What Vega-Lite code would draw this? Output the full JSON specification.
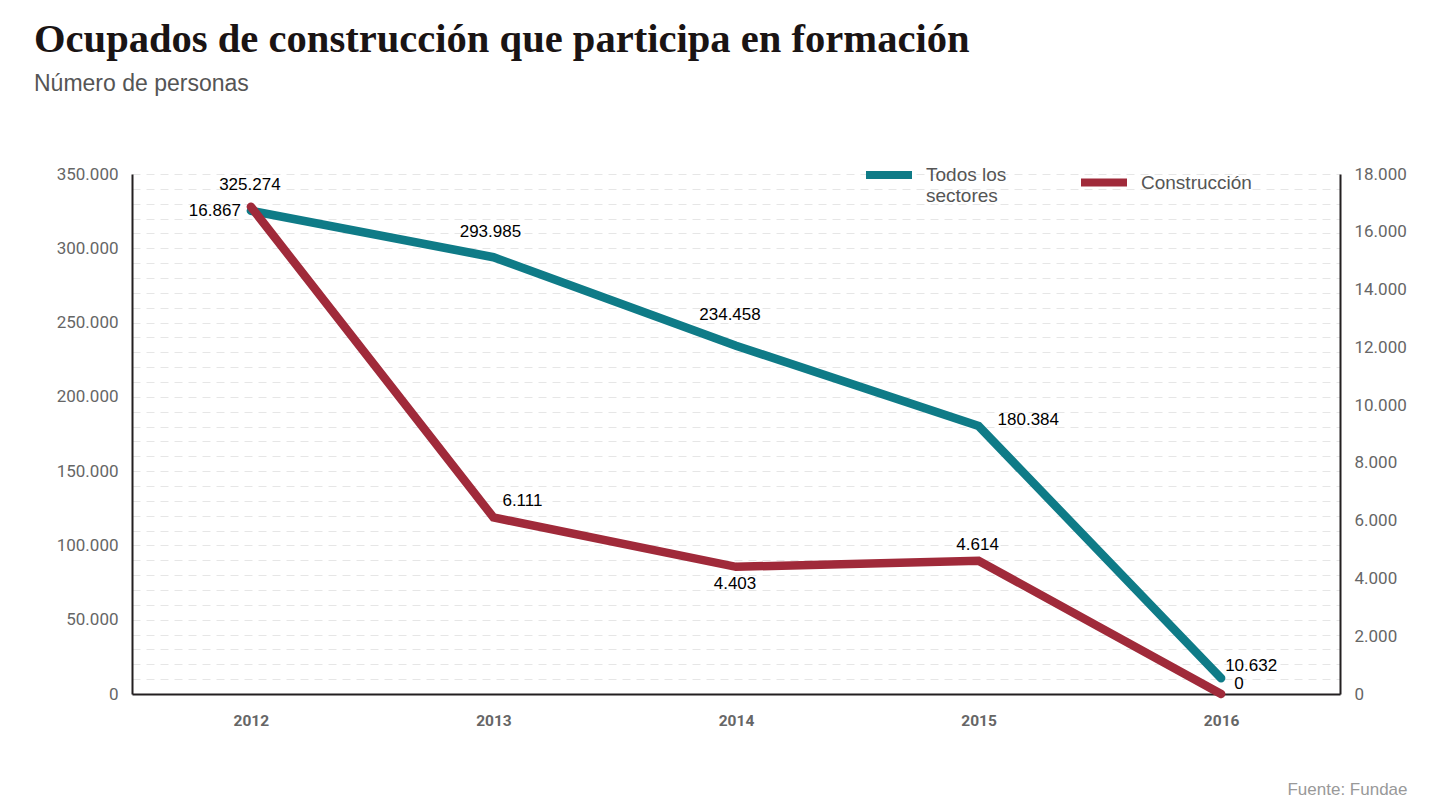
{
  "$schema": "https://vega.github.io/schema/vega-lite/v6.json",
  "autosize": "none",
  "width": 1208,
  "height": 520,
  "padding": {"top": 174, "left": 132, "right": 100, "bottom": 114},
  "background": "white",
  "title": {
    "text": "Ocupados de construcción que participa en formación",
    "subtitle": "Número de personas",
    "anchor": "start",
    "frame": "group",
    "dx": -98,
    "offset": 52,
    "font": "Liberation Serif",
    "fontSize": 40.6,
    "fontWeight": "bold",
    "color": "#1a1414",
    "subtitleFont": "Liberation Sans",
    "subtitleFontSize": 23,
    "subtitleColor": "#555555",
    "subtitlePadding": 12
  },
  "data": {
    "values": [
      {"year": "2012", "series": "Todos los sectores", "value": 325274},
      {"year": "2013", "series": "Todos los sectores", "value": 293985},
      {"year": "2014", "series": "Todos los sectores", "value": 234458},
      {"year": "2015", "series": "Todos los sectores", "value": 180384},
      {"year": "2016", "series": "Todos los sectores", "value": 10632},
      {"year": "2012", "series": "Construcción", "value": 16867},
      {"year": "2013", "series": "Construcción", "value": 6111},
      {"year": "2014", "series": "Construcción", "value": 4403},
      {"year": "2015", "series": "Construcción", "value": 4614},
      {"year": "2016", "series": "Construcción", "value": 0}
    ]
  },
  "encoding": {
    "x": {
      "field": "year",
      "type": "ordinal",
      "scale": {"type": "point", "padding": 0.49},
      "axis": {
        "title": "Fuente: Fundae",
        "titleAnchor": "end",
        "titleAlign": "right",
        "titleBaseline": "alphabetic",
        "titleX": 1275,
        "titleY": 100,
        "titleFont": "Liberation Sans",
        "titleFontSize": 17,
        "titleFontWeight": "normal",
        "titleColor": "#999999",
        "labelAngle": 0,
        "labelFont": "Roboto",
        "labelFontSize": 15.5,
        "labelFontWeight": "bold",
        "labelColor": "#666666",
        "labelPadding": 19,
        "ticks": false,
        "grid": false,
        "domainColor": "#231f20",
        "domainWidth": 2
      }
    }
  },
  "layer": [
    {
      "transform": [{"filter": "datum.series == 'Todos los sectores'"}],
      "encoding": {
        "y": {
          "field": "value",
          "type": "quantitative",
          "scale": {"domain": [0, 350000], "nice": false},
          "axis": {
            "orient": "left",
            "title": null,
            "values": [0, 10000, 20000, 30000, 40000, 50000, 60000, 70000, 80000, 90000, 100000, 110000, 120000, 130000, 140000, 150000, 160000, 170000, 180000, 190000, 200000, 210000, 220000, 230000, 240000, 250000, 260000, 270000, 280000, 290000, 300000, 310000, 320000, 330000, 340000, 350000],
            "format": ",d",
            "labelExpr": "datum.value % 50000 == 0 ? datum.label : ''",
            "labelFont": "Roboto",
            "labelFontSize": 17,
            "labelColor": "#666666",
            "labelPadding": 14,
            "ticks": false,
            "grid": true,
            "gridColor": "#e6e6e6",
            "gridDash": [8, 6],
            "gridWidth": 1,
            "domainColor": "#231f20",
            "domainWidth": 2
          }
        }
      },
      "layer": [
        {
          "mark": {"type": "line", "strokeWidth": 8.5, "strokeCap": "round"},
          "encoding": {
            "color": {
              "field": "series",
              "type": "nominal",
              "scale": {"domain": ["Todos los sectores", "Construcción"], "range": ["#0f7b87", "#a02a3a"]},
              "legend": {
                "orient": "none",
                "legendX": 730,
                "legendY": -26,
                "direction": "horizontal",
                "title": null,
                "padding": 0,
                "symbolType": "stroke",
                "symbolSize": 2116,
                "symbolStrokeWidth": 8,
                "labelFont": "Liberation Sans",
                "labelFontSize": 19,
                "labelColor": "#555555",
                "labelOffset": 10,
                "columnPadding": 58,
                "labelLimit": 300,
                "labelExpr": "datum.label == 'Todos los sectores' ? ['Todos los', 'sectores'] : datum.label"
              }
            }
          }
        },
        {
          "transform": [{"filter": "datum.year == '2012'"}],
          "mark": {"type": "text", "font": "Liberation Sans", "fontSize": 17, "color": "#000000", "align": "center", "dx": -1, "dy": -26},
          "encoding": {"text": {"field": "value", "type": "quantitative", "format": ",d"}}
        },
        {
          "transform": [{"filter": "datum.year == '2013'"}],
          "mark": {"type": "text", "font": "Liberation Sans", "fontSize": 17, "color": "#000000", "align": "center", "dx": -3, "dy": -25},
          "encoding": {"text": {"field": "value", "type": "quantitative", "format": ",d"}}
        },
        {
          "transform": [{"filter": "datum.year == '2014'"}],
          "mark": {"type": "text", "font": "Liberation Sans", "fontSize": 17, "color": "#000000", "align": "center", "dx": -6, "dy": -31},
          "encoding": {"text": {"field": "value", "type": "quantitative", "format": ",d"}}
        },
        {
          "transform": [{"filter": "datum.year == '2015'"}],
          "mark": {"type": "text", "font": "Liberation Sans", "fontSize": 17, "color": "#000000", "align": "left", "dx": 19, "dy": -6},
          "encoding": {"text": {"field": "value", "type": "quantitative", "format": ",d"}}
        },
        {
          "transform": [{"filter": "datum.year == '2016'"}],
          "mark": {"type": "text", "font": "Liberation Sans", "fontSize": 17, "color": "#000000", "align": "left", "dx": 4, "dy": -12},
          "encoding": {"text": {"field": "value", "type": "quantitative", "format": ",d"}}
        }
      ]
    },
    {
      "transform": [{"filter": "datum.series == 'Construcción'"}],
      "encoding": {
        "y": {
          "field": "value",
          "type": "quantitative",
          "scale": {"domain": [0, 18000], "nice": false},
          "axis": {
            "orient": "right",
            "title": null,
            "values": [0, 2000, 4000, 6000, 8000, 10000, 12000, 14000, 16000, 18000],
            "format": ",d",
            "labelFont": "Roboto",
            "labelFontSize": 17,
            "labelColor": "#666666",
            "labelPadding": 14,
            "ticks": false,
            "grid": false,
            "domainColor": "#231f20",
            "domainWidth": 2
          }
        }
      },
      "layer": [
        {
          "mark": {"type": "line", "strokeWidth": 8.5, "strokeCap": "round"},
          "encoding": {
            "color": {"field": "series", "type": "nominal"}
          }
        },
        {
          "transform": [{"filter": "datum.year == '2012'"}],
          "mark": {"type": "text", "font": "Liberation Sans", "fontSize": 17, "color": "#000000", "align": "right", "dx": -10, "dy": 4},
          "encoding": {"text": {"field": "value", "type": "quantitative", "format": ",d"}}
        },
        {
          "transform": [{"filter": "datum.year == '2013'"}],
          "mark": {"type": "text", "font": "Liberation Sans", "fontSize": 17, "color": "#000000", "align": "left", "dx": 9, "dy": -16},
          "encoding": {"text": {"field": "value", "type": "quantitative", "format": ",d"}}
        },
        {
          "transform": [{"filter": "datum.year == '2014'"}],
          "mark": {"type": "text", "font": "Liberation Sans", "fontSize": 17, "color": "#000000", "align": "center", "dx": -1, "dy": 17},
          "encoding": {"text": {"field": "value", "type": "quantitative", "format": ",d"}}
        },
        {
          "transform": [{"filter": "datum.year == '2015'"}],
          "mark": {"type": "text", "font": "Liberation Sans", "fontSize": 17, "color": "#000000", "align": "center", "dx": -1, "dy": -16},
          "encoding": {"text": {"field": "value", "type": "quantitative", "format": ",d"}}
        },
        {
          "transform": [{"filter": "datum.year == '2016'"}],
          "mark": {"type": "text", "font": "Liberation Sans", "fontSize": 17, "color": "#000000", "align": "left", "dx": 13, "dy": -10},
          "encoding": {"text": {"field": "value", "type": "quantitative", "format": ",d"}}
        }
      ]
    }
  ],
  "resolve": {"scale": {"y": "independent"}},
  "config": {
    "locale": {
      "number": {"decimal": ",", "thousands": ".", "grouping": [3], "currency": ["", " €"]}
    },
    "view": {"stroke": null}
  }
}
